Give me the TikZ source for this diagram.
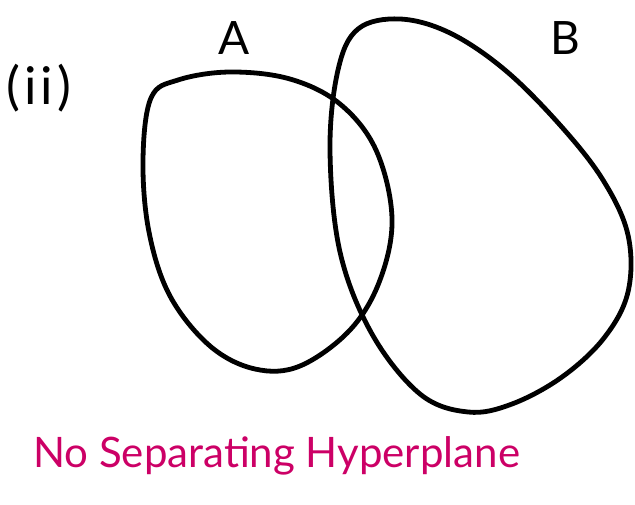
\documentclass[tikz,border=0pt]{standalone}
\usepackage{fontspec}
\setmainfont{Lato}
\definecolor{pink}{HTML}{CC0066}
\begin{document}
\begin{tikzpicture}[x=1pt,y=-1pt,
  blob/.style={line width=4.8pt, line join=round, line cap=round, draw=black},
  hand/.style={inner sep=0pt, anchor=base west}]
\useasboundingbox (0,0) rectangle (635,504);
% blob A
\draw[blob] plot[smooth cycle, tension=0.6] coordinates {
  (151,98) (178,80) (230,72) (290,79) (340,104) (376,150) (392,218)
  (380,280) (350,330) (300,366) (255,369) (210,346) (170,296)
  (149,232) (143,160)};
% blob B
\draw[blob] plot[smooth cycle, tension=0.6] coordinates {
  (358,29) (400,19) (450,33) (505,70) (560,125) (603,180) (628,235)
  (628,292) (604,338) (562,377) (512,404) (468,412) (420,394) (372,334)
  (340,252) (330,150) (338,70)};
\node[hand, font=\fontsize{52}{56}\selectfont\addfontfeatures{LetterSpace=8}] (lab) at (6,104) {(ii)};
\node[hand, font=\fontsize{46}{50}\selectfont] (la) at (218,54) {A};
\node[hand, font=\fontsize{46}{50}\selectfont] (lb) at (550,54) {B};
\node[hand, text=pink, font=\fontsize{42}{50}\selectfont] (t) at (33,467) {No Separating Hyperplane};
\end{tikzpicture}
\end{document}
